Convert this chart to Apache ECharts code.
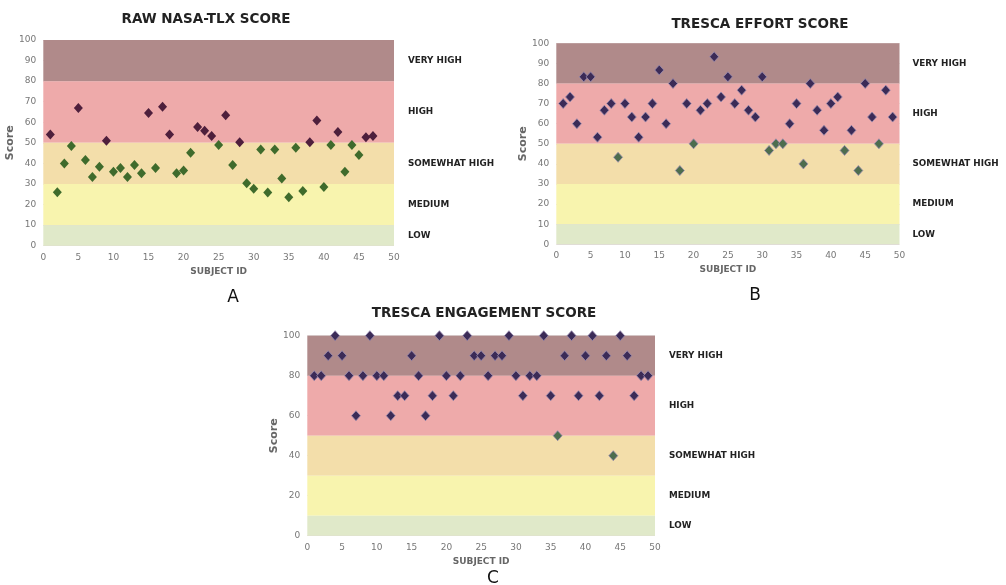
<!DOCTYPE html>
<html><head><meta charset="utf-8">
<script src="https://cdn.jsdelivr.net/npm/echarts@6/dist/echarts.min.js"></script>
<style>html,body{margin:0;padding:0;background:#fff}#c{width:1006px;height:585px}</style>
</head><body><div id="c"></div>
<script>
// ---- data ----
const subjectsA = Array.from({length:47},(_,i)=>i+1);
const nasaTlx = [54,26,40,48.5,67,41.7,33.4,38.4,51,36,37.8,33.4,39.2,35.2,64.5,37.8,67.6,54.1,35.2,36.6,45.2,57.7,55.9,53.3,48.9,63.4,39.2,50.3,30.3,27.7,46.8,25.9,46.8,32.7,23.5,47.6,26.6,50.3,60.9,28.5,48.9,55.3,36,48.9,44.1,52.7,53.3];
const subjectsB = Array.from({length:49},(_,i)=>i+1);
const trescaEffort = [70,73.3,60,83.3,83.3,53.3,66.7,70,43.3,70,63.3,53.3,63.3,70,86.7,60,80,36.7,70,50,66.7,70,93.3,73.3,83.3,70,76.7,66.7,63.3,83.3,46.7,50,50,60,70,40,80,66.7,56.7,70,73.3,46.7,56.7,36.7,80,63.3,50,76.7,63.3];
const subjectsC = Array.from({length:49},(_,i)=>i+1);
const trescaEngagement = [80,80,90,100,90,80,60,80,100,80,80,60,70,70,90,80,60,70,100,80,70,80,100,90,90,80,90,90,100,80,70,80,80,100,70,50,90,100,70,90,100,70,90,40,100,90,70,80,80];
const bandNames = ['VERY HIGH','HIGH','SOMEWHAT HIGH','MEDIUM','LOW'];
const bandLimits = [[80,100],[50,80],[30,50],[10,30],[0,10]];
const bandColors = ['#b08a8a','#eeaaaa','#f3deaa','#f8f4ae','#e0e9c9'];
const titles = ['RAW NASA-TLX SCORE','TRESCA EFFORT SCORE','TRESCA ENGAGEMENT SCORE'];
const panelLetters = ['A','B','C'];

// ---- layout ----
const grids = [
  {left:43.3, top:40, width:350.7, height:205.7},
  {left:556.3, top:43.3, width:343.2, height:201},
  {left:307.3, top:335.7, width:347.7, height:200}
];
const yIntervals = [10,10,20];
const titlePos = [[201,14],[755,19],[479,308]];
const letterPos = [[228,293],[750,291],[488,574]];
const markerStyles = [
  {dark:'#4e1f3c', green:'#3f6b2c', border:'rgba(0,0,0,0)'},
  {dark:'#3b2b57', green:'#4d6d4e', border:'#9a8cb0'},
  {dark:'#3b2b57', green:'#4d6d4e', border:'#9a8cb0'}
];
const FONT = 'DejaVu Sans';

const datasets = [
  subjectsA.map((s,i)=>[s,nasaTlx[i]]),
  subjectsB.map((s,i)=>[s,trescaEffort[i]]),
  subjectsC.map((s,i)=>[s,trescaEngagement[i]])
];

const option = {
  animation:false,
  title: titles.map((t,i)=>({text:t, left:titlePos[i][0], top:titlePos[i][1], textAlign:'center', textVerticalAlign:'middle',
    textStyle:{fontFamily:FONT, fontWeight:'bold', fontSize:13.5, color:'#222'}})).concat(
    panelLetters.map((t,i)=>({text:t, left:letterPos[i][0], top:letterPos[i][1], textAlign:'center', textVerticalAlign:'middle',
    textStyle:{fontFamily:FONT, fontWeight:'normal', fontSize:17, color:'#111'}}))),
  grid: grids.map(g=>Object.assign({containLabel:false}, g)),
  xAxis: grids.map((g,i)=>({type:'value', gridIndex:i, min:0, max:50, interval:5,
    name:'SUBJECT ID', nameLocation:'middle', nameGap:21,
    nameTextStyle:{fontFamily:FONT, fontWeight:'bold', fontSize:9, color:'#666'},
    axisLine:{show:false}, axisTick:{show:false}, splitLine:{show:false},
    axisLabel:{fontFamily:FONT, fontSize:9, color:'#777', margin:7}})),
  yAxis: grids.map((g,i)=>({type:'value', gridIndex:i, min:0, max:100, interval:yIntervals[i],
    name:'Score', nameLocation:'middle', nameGap:i===1?27:26,
    nameTextStyle:{fontFamily:FONT, fontWeight:'bold', fontSize:11, color:'#666'},
    axisLine:{show:false}, axisTick:{show:false},
    splitLine:{show:true, lineStyle:{color:'rgba(120,80,80,0.22)', width:1}},
    axisLabel:{fontFamily:FONT, fontSize:9, color:'#777', margin:7}})),
  series: datasets.map((d,i)=>({
    type:'scatter', xAxisIndex:i, yAxisIndex:i, data:d, symbol:'diamond', symbolSize:[9,10], z:5,
    itemStyle:{opacity:1, borderColor:markerStyles[i].border, borderWidth:i===0?0:0.8,
      color:p=>p.value[1]>50?markerStyles[i].dark:markerStyles[i].green},
    markArea:{silent:true, z:1,
      data: bandNames.map((n,k)=>[
        {yAxis:bandLimits[k][0], xAxis:0, name:n, itemStyle:{color:bandColors[k]},
          label:{show:true, position:'right', distance:i===1?13:14, formatter:n,
            fontFamily:FONT, fontWeight:'bold', fontSize:8.8, color:'#222', align:'left'}},
        {yAxis:bandLimits[k][1], xAxis:50}
      ])}
  }))
};
const chart = echarts.init(document.getElementById('c'), null, {renderer:'canvas'});
chart.setOption(option);
</script></body></html>
